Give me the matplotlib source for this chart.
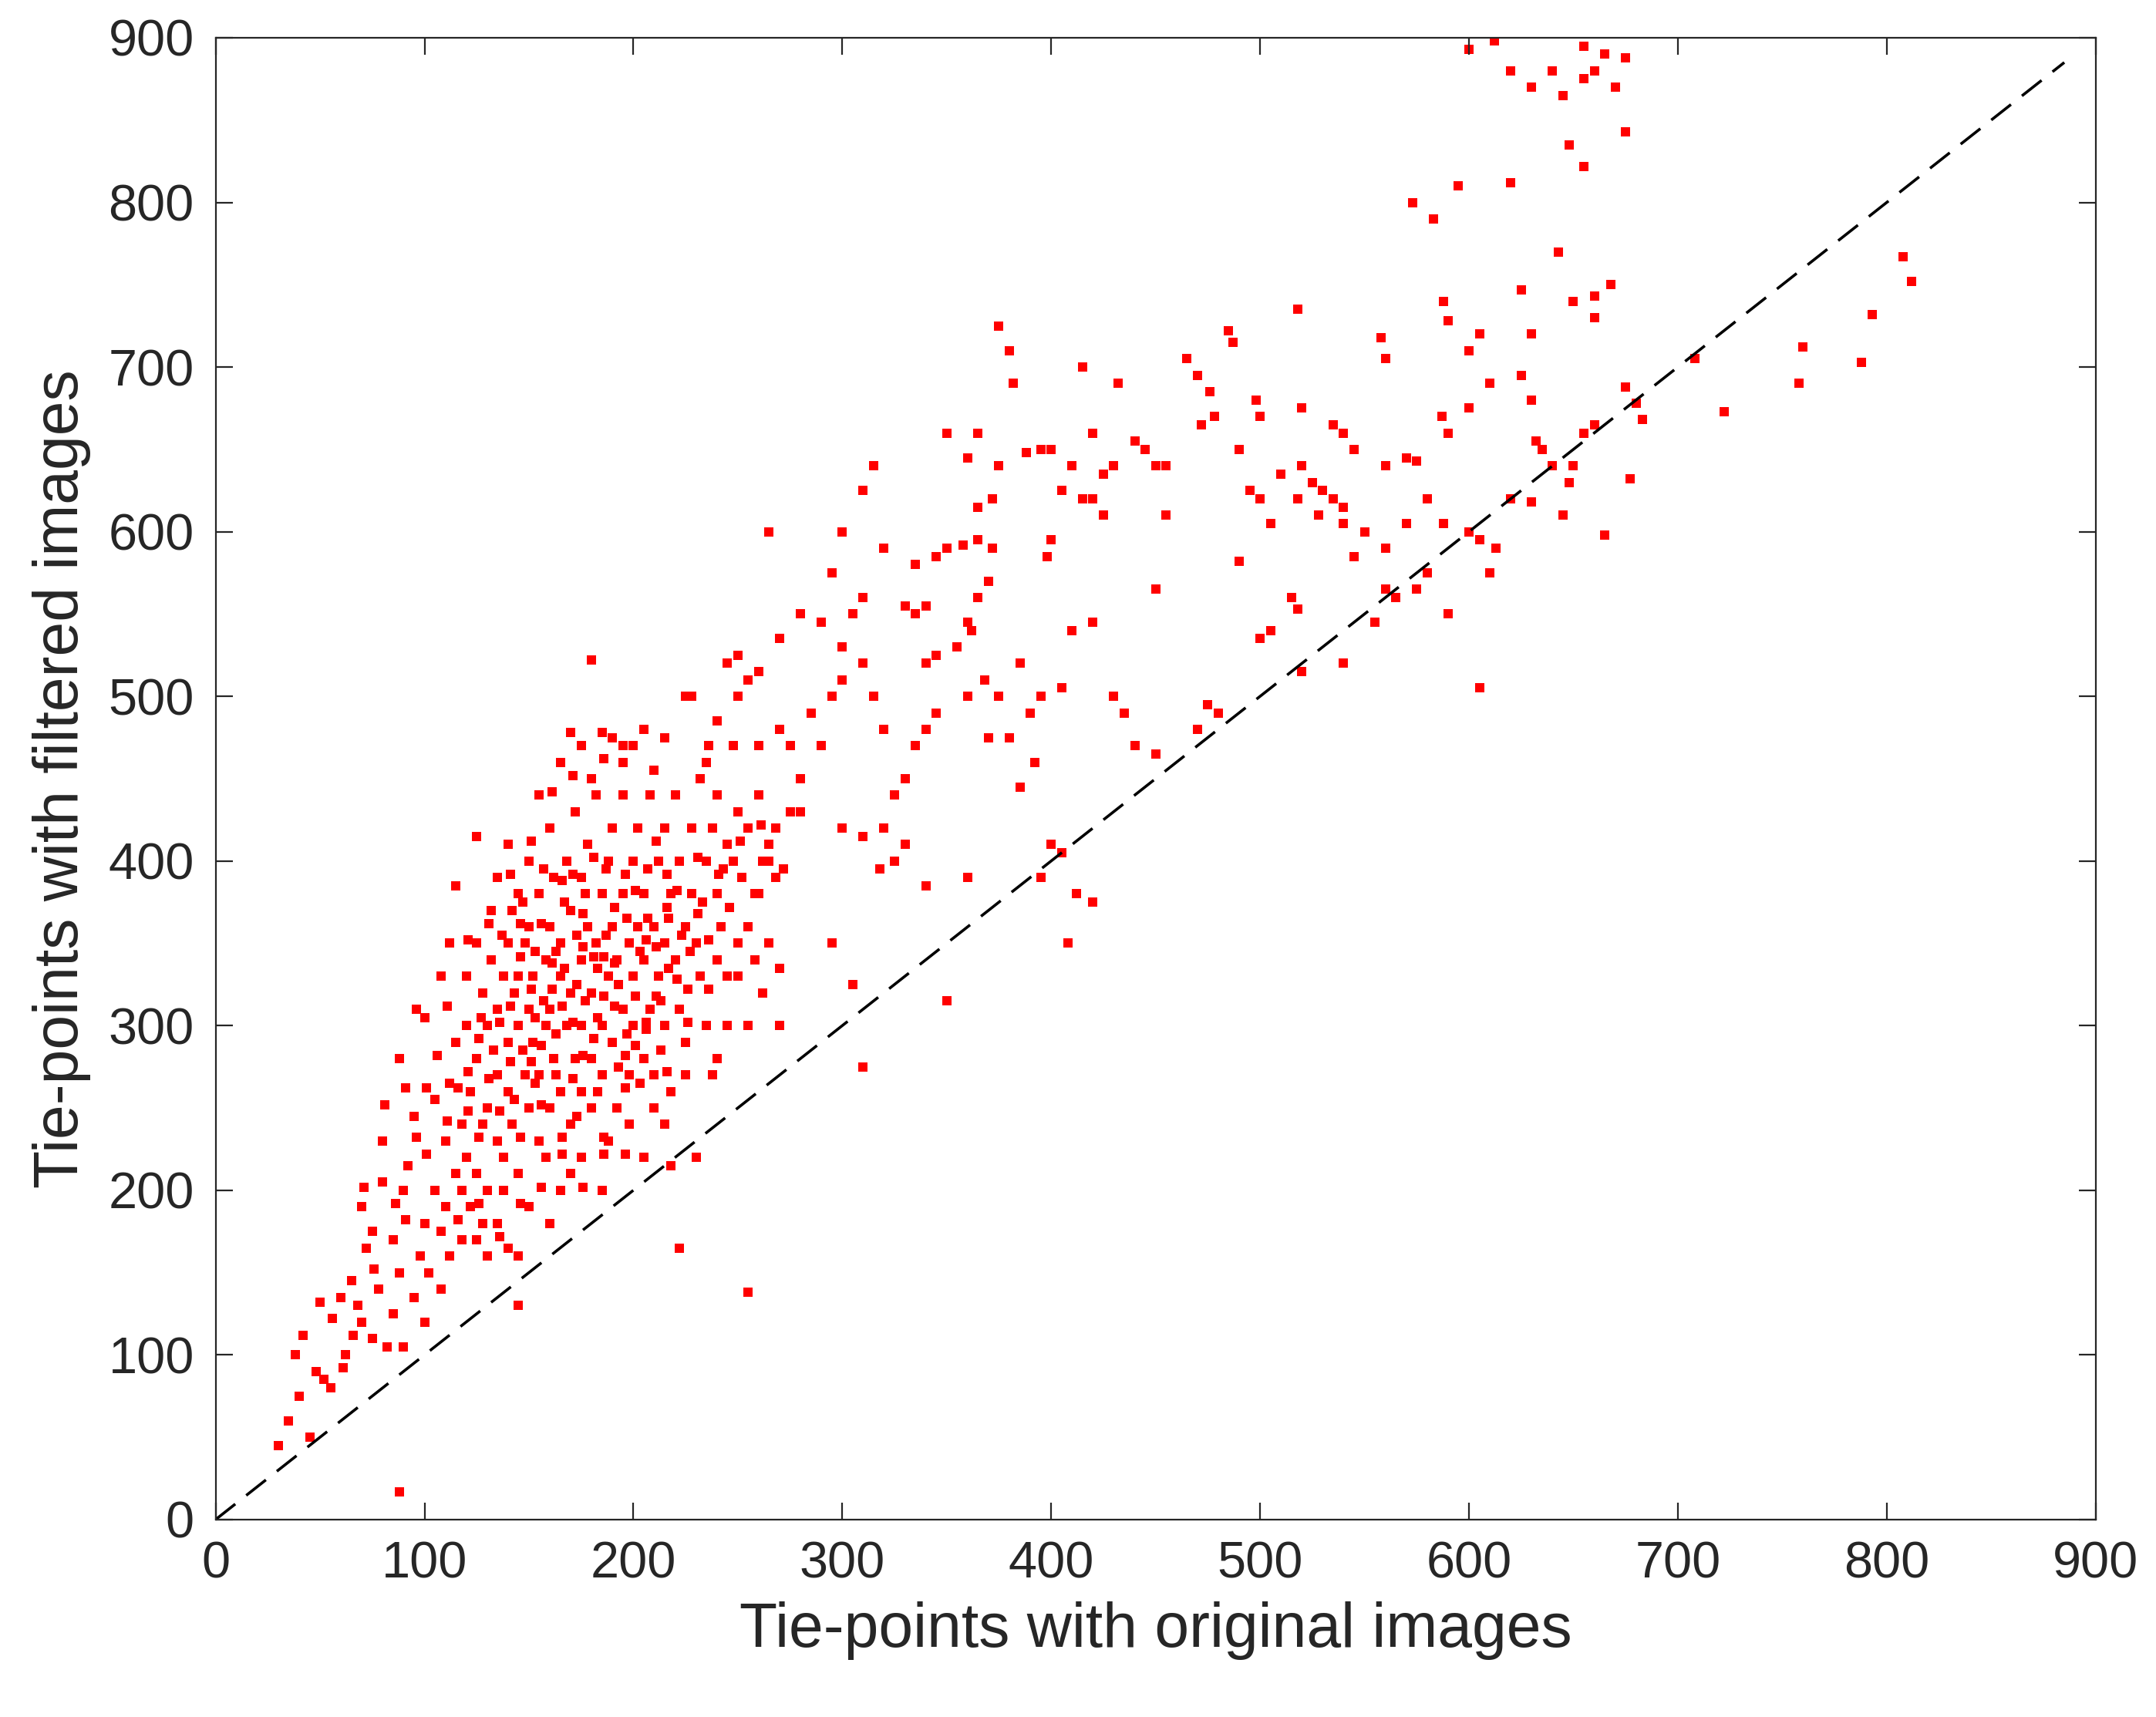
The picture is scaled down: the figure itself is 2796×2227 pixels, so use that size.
import matplotlib
matplotlib.use("Agg")
import matplotlib.pyplot as plt

sparse = """612 898 655 895 660 880 665 890 670 870 645 865 655 875 600 893 620 880 640 880 675 888 630 870 648 835 655 822 675 843 595 810 620 812 573 800 583 790 643 770 808 767 812 752 793 732 788 703 760 712 758 690 722 673 708 705 680 678 683 668 675 688 677 632 665 598 660 730 668 750 660 743 650 740 625 747 630 720 588 740 590 728 600 710 605 720 558 718 560 705 518 735 485 722 487 715 465 705 470 695 476 685 478 670 472 665 490 650 498 680 500 670 520 675 535 665 540 660 545 650 560 640 570 645 575 643 580 620 587 670 590 660 600 675 610 690 625 695 630 680 632 655 635 650 645 610 648 630 650 640 655 660 660 665 520 640 525 630 530 625 535 620 540 615 528 610 518 620 510 635 505 605 500 620 495 625 490 582 500 535 505 540 515 560 518 553 520 515 540 520 555 545 560 565 565 560 575 565 580 575 590 550 588 605 600 600 605 595 610 575 613 590 605 505 620 620 630 618 640 640 570 605 560 590 550 600 545 585 540 605 475 495 480 490 470 480 430 500 435 490 440 470 450 465 450 565 455 610 455 640 450 640 445 650 440 655 430 640 425 635 420 620 425 610 415 620 410 640 400 650 405 625 395 650 400 595 398 585 432 690 420 660 415 700 375 725 380 710 382 690 388 648 375 640 372 620 365 615 360 645 365 660 350 660 372 590 370 570 365 560 360 545 355 530 362 540 360 500 368 510 375 500 385 520 390 490 395 500 405 505 410 540 420 545 380 475 370 475 385 445 392 460 400 410 405 405 408 350 412 380 420 375 395 390 360 390 350 315 310 275 305 325 295 350 255 138 222 165 230 220 218 215 88 17 145 130 140 165 135 180 325 400 330 410 340 385 320 420 310 415 318 395 300 420 325 440 330 450 335 470 340 480 345 490 320 480 315 500 310 520 300 530 305 550 310 560 330 555 335 550 320 590 310 625 315 640 300 600 295 575 290 545 280 550 270 535 265 600 260 515 255 510 250 525 245 520 250 500 240 485 235 460 225 500 215 475 210 455 200 470 195 440 180 522 170 478 175 470 185 478 190 475 270 480 275 470 285 490 295 500 300 510 340 520 345 525 340 555 335 580 345 585 350 590 358 592 365 595 290 470 280 450 275 430 268 420 265 400 260 380 255 360 258 340 265 350 270 335 262 320 245 300 250 330 240 340 270 300 240 280"""
dense = """30 45 35 60 38 100 42 112 40 75 45 50 48 90 50 132 52 85 55 80 60 135 62 100 65 145 68 130 70 120 70 190 72 165 75 110 75 175 78 140 80 205 80 230 82 105 85 125 85 170 88 150 88 280 90 200 92 215 95 135 95 245 98 160 100 305 100 180 102 150 105 200 105 255 108 175 110 190 110 230 112 265 112 160 115 210 115 290 115 385 118 240 118 170 120 220 120 330 120 300 122 260 122 190 125 280 125 415 125 350 125 210 128 240 128 320 130 300 130 250 130 200 132 370 132 340 135 230 135 270 135 310 135 390 138 330 138 220 140 350 140 290 140 260 140 410 142 240 142 370 145 300 145 330 145 380 145 210 148 270 148 350 150 400 150 310 150 250 150 360 152 290 152 330 155 440 155 270 155 380 155 230 158 340 158 300 160 360 160 250 160 310 160 420 162 280 162 390 165 330 165 460 165 260 165 350 168 300 168 400 170 240 170 370 170 320 172 280 172 430 175 340 175 260 175 390 175 300 178 360 178 410 180 320 180 280 180 250 182 350 182 440 185 300 185 380 185 270 188 330 188 400 190 360 190 290 190 420 192 340 192 250 195 310 195 380 195 460 198 350 198 270 200 330 200 400 200 300 202 360 202 420 205 280 205 340 205 380 208 310 208 440 210 360 210 270 212 400 212 330 215 350 215 300 215 420 218 380 218 260 220 340 220 440 222 310 222 400 225 360 225 290 228 420 228 380 230 350 232 330 232 450 235 400 235 300 238 420 240 380 240 440 242 360 245 410 248 400 250 430 252 390 255 420 258 380 260 440 262 400 265 410 268 390 272 395 280 430 248 470 236 470 228 500 260 470 205 480 165 200 170 210 175 220 158 220 150 190 160 180 130 160 125 170 118 200 108 140 100 120 90 105 96 310 108 330 112 350 128 180 138 200 145 160 188 230 198 240 210 250 225 270 238 270 250 350 255 300 245 330 185 200 205 220 215 240 180 450 195 470 143 320 147 285 153 345 157 315 163 295 167 335 173 355 177 315 183 335 187 355 193 325 197 295 203 345 207 365 213 315 217 335 223 355 143 255 153 265 163 270 173 245 183 260 193 275 203 265 213 285 133 285 127 305 137 355 147 375 157 395 167 375 177 380 187 395 197 365 207 395 217 365 227 345 233 375 243 395 183 305 173 325 163 345 153 305"""
core = """141 278 146 342 151 322 156 288 161 338 166 312 171 268 176 348 181 292 186 318 191 338 196 282 201 318 206 298 211 348 216 372 146 362 156 362 166 388 176 368 186 342 196 392 206 352 216 392 226 322 236 352 246 372 136 248 146 232 156 252 166 232 176 282 186 232 196 262 206 302 216 272 226 302 236 322 131 268 121 248 126 232 116 262 126 292 136 302 141 312 151 278 161 322 171 302 181 342 191 312 201 288 211 318 221 328 231 368 241 392 251 412 261 422 171 392 181 402 191 372 201 382 211 412 221 382 231 402 151 412 161 442 171 452 186 462 131 362 141 392 121 352 111 312 106 282 101 262 96 232 91 182 86 192 76 152 66 112 61 92 56 122 71 202 81 252 91 262 101 222 111 242 121 272 156 202 166 222 176 202 186 222 196 222 146 192 136 172 126 192 116 182"""

def parse(s):
    v = [float(t) for t in s.split()]
    return v[0::2], v[1::2]

sx, sy = parse(sparse)
dx, dy = parse(dense)
cx, cy = parse(core)
x_vals = sx + dx + cx
y_vals = sy + dy + cy
ticks = [0, 100, 200, 300, 400, 500, 600, 700, 800, 900]

plt.rcParams['font.family'] = ['Liberation Sans', 'DejaVu Sans']
fig = plt.figure(figsize=(13.98, 11.135), dpi=200)
ax = fig.add_axes([0.100, 0.115, 0.872, 0.863])
ax.plot([0, 885], [0, 885], linestyle=(0, (9, 5)), color='black', lw=1.3)
ax.scatter(x_vals, y_vals, s=18, marker='s', color='#ff0000', linewidths=0)
ax.set_xlim(0, 900); ax.set_ylim(0, 900)
ax.set_xticks(ticks); ax.set_yticks(ticks)
ax.tick_params(labelsize=24, colors='#262626', direction='in', length=8, top=True, right=True, pad=10)
for sp in ax.spines.values():
    sp.set_color('#262626')
ax.set_xlabel('Tie-points with original images', fontsize=29, color='#262626', labelpad=6)
ax.set_ylabel('Tie-points with filtered images', fontsize=29, color='#262626', labelpad=8)
fig.savefig('out.png', dpi=200)
